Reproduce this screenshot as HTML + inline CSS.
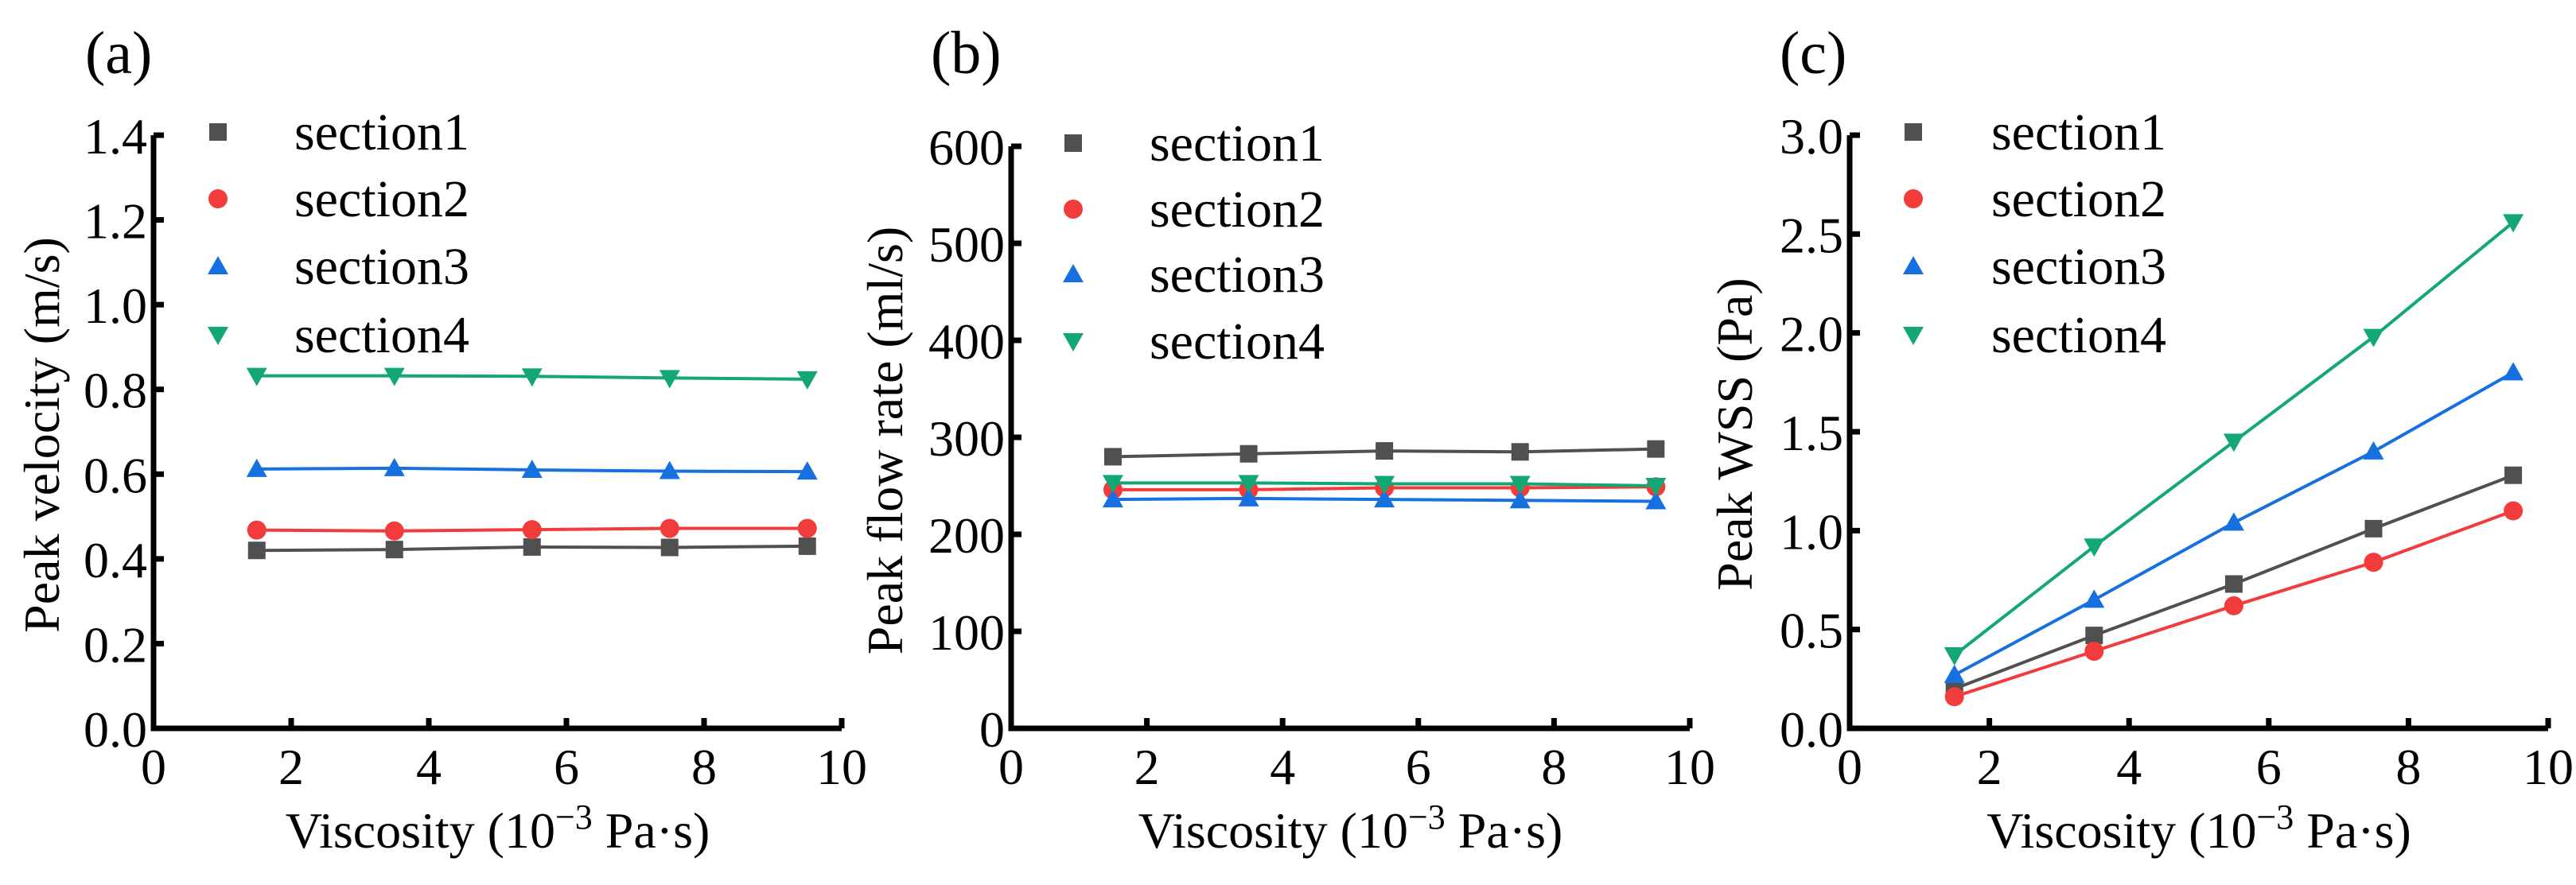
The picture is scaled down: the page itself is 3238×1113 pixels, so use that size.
<!DOCTYPE html>
<html><head><meta charset="utf-8"><style>
html,body{margin:0;padding:0;background:#fff;}
svg{display:block;}
svg text{font-family:"Liberation Serif","Times New Roman","DejaVu Serif",serif;}
</style></head><body>
<svg id="fig" width="3238" height="1113" viewBox="0 0 3238 1113" font-family="Liberation Serif, DejaVu Serif, serif"></svg>
<script>
const xValues=[1.5,3.5,5.5,7.5,9.5];
const xTicks=[0,2,4,6,8,10];
const aS1=[0.42,0.422,0.428,0.427,0.43];
const aS2=[0.468,0.466,0.469,0.472,0.472];
const aS3=[0.612,0.614,0.61,0.607,0.606];
const aS4=[0.832,0.832,0.831,0.827,0.824];
const aTicks=["0.0","0.2","0.4","0.6","0.8","1.0","1.2","1.4"];
const bS1=[280,283,286,285,288];
const bS2=[246,246,248,248,249];
const bS3=[236,237,236,235,234];
const bS4=[253,253,252,252,250];
const bTicks=["0","100","200","300","400","500","600"];
const cS1=[0.2,0.47,0.73,1.01,1.28];
const cS2=[0.16,0.39,0.62,0.84,1.1];
const cS3=[0.27,0.65,1.04,1.4,1.8];
const cS4=[0.37,0.92,1.45,1.98,2.56];
const cTicks=["0.0","0.5","1.0","1.5","2.0","2.5","3.0"];
const seriesNames=["section1","section2","section3","section4"];
const colors=["#505050","#f23c3c","#1670e0","#13a873"];
const NS="http://www.w3.org/2000/svg";
const FF='"Liberation Serif","DejaVu Serif",serif';
const svg=document.getElementById('fig');
function mk(tag,attrs,parent,text){const e=document.createElementNS(NS,tag);for(const k in attrs)e.setAttribute(k,attrs[k]);if(tag==='text')e.setAttribute('style','font-family:'+FF);if(text!==undefined)e.textContent=text;(parent||svg).appendChild(e);return e;}
function marker(g,i,x,y){const c=colors[i];let e;
 if(i===0){e=mk('rect',{x:x-11,y:y-11,width:22,height:22,fill:c},g);}
 else if(i===1){e=mk('circle',{cx:x,cy:y,r:12,fill:c},g);}
 else if(i===2){e=mk('polygon',{points:`${x},${y-13} ${x-13},${y+10} ${x+13},${y+10}`,fill:c},g);}
 else {e=mk('polygon',{points:`${x},${y+13} ${x-13},${y-10} ${x+13},${y-10}`,fill:c},g);}
 return e;}
function panel(p){
 const g=mk('g',{});
 
 
 const X=v=>p.x0+(v-0)/10*(p.x1-p.x0);
 const Y=v=>p.y0-(v-p.ymin)/(p.ymax-p.ymin)*(p.y0-p.y1);
 p.series.forEach((s,i)=>{
  const sg=mk('g',{},g);
  
  
  const pl=mk('polyline',{points:s.map((v,j)=>X(xValues[j])+','+Y(v)).join(' '),fill:'none',stroke:colors[i],'stroke-width':4},sg);
  
  
  s.forEach((v,j)=>{const m=marker(sg,i,X(xValues[j]),Y(v));
   
   });
 });
 const ax=mk('path',{d:`M${p.x0},${p.y1} V${p.y0} H${p.x1}`,fill:'none',stroke:'#000','stroke-width':7},g);
 
 
 xTicks.forEach(t=>{const x=X(t);
  mk('line',{x1:x,x2:x,y1:p.y0,y2:p.y0-13,stroke:'#000','stroke-width':7},g);
  const tl=mk('text',{x:x,y:p.y0+70,'font-size':64,'text-anchor':'middle'},g,String(t));
  
  });
 p.ticks.forEach((t,k)=>{const v=p.ymin+k*(p.ymax-p.ymin)/(p.ticks.length-1);const y=Y(v);
  mk('line',{x1:p.x0,x2:p.x0+13,y1:y,y2:y,stroke:'#000','stroke-width':7},g);
  const tl=mk('text',{x:p.x0-8,y:y+23,'font-size':64,'text-anchor':'end'},g,t);
  
  });
 const xt=mk('text',{x:(p.x0+p.x1)/2,y:1066,'font-size':64,'text-anchor':'middle'},g);
 
 
 xt.innerHTML='Viscosity (10<tspan dy="-24" font-size="44">−3</tspan><tspan dy="24"> Pa·s)</tspan>';
 const yt=mk('text',{x:0,y:0,'font-size':64,'text-anchor':'middle',transform:`translate(${p.ytx},${p.yty}) rotate(-90)`},g,p.ytitle);
 
 
 const pt=mk('text',{x:p.lx,y:92,'font-size':76},g,'('+p.id+')');
 
 
 const lg=mk('g',{},g);
 
 
 seriesNames.forEach((n,i)=>{const y=p.legY[i];
  const m=marker(lg,i,p.legMx,y);
  
  
  const t=mk('text',{x:p.legTx,y:y+22,'font-size':66},lg,n);
  
  });
}
panel({id:'a',x0:193,x1:1058,y0:916,y1:170,ymin:0,ymax:1.4,ticks:aTicks,series:[aS1,aS2,aS3,aS4],
 ytitle:'Peak velocity (m/s)',ytx:74,yty:547,lx:107,legMx:274,legTx:370,legY:[166,250,335,421]});
panel({id:'b',x0:1271,x1:2124,y0:916,y1:184,ymin:0,ymax:600,ticks:bTicks,series:[bS1,bS2,bS3,bS4],
 ytitle:'Peak flow rate (ml/s)',ytx:1134,yty:554,lx:1170,legMx:1349,legTx:1445,legY:[180,263,345,429]});
panel({id:'c',x0:2325,x1:3203,y0:916,y1:170,ymin:0,ymax:3.0,ticks:cTicks,series:[cS1,cS2,cS3,cS4],
 ytitle:'Peak WSS (Pa)',ytx:2202,yty:546,lx:2237,legMx:2405,legTx:2503,legY:[166,250,335,421]});
</script>
</body></html>
